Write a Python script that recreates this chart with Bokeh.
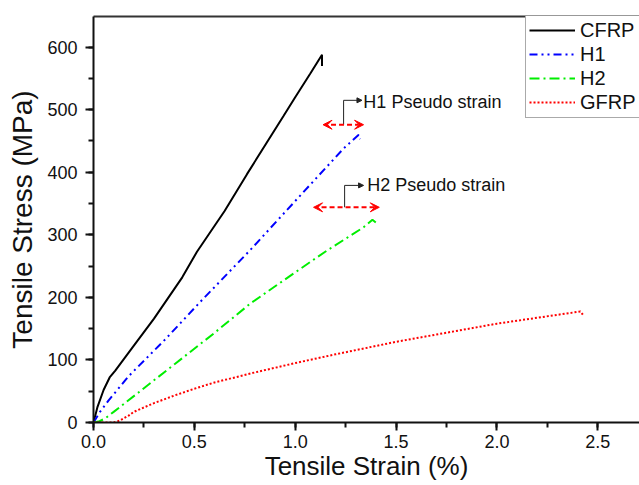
from bokeh.plotting import figure
from bokeh.models import (Range1d, LinearAxis, SingleIntervalTicker, FixedTicker,
                          NumeralTickFormatter, Legend, LegendItem, Arrow, VeeHead,
                          NormalHead, ColumnDataSource)
from bokeh.core.properties import value
from bokeh.embed import file_html
from bokeh.resources import INLINE

# ---- data ----
cfrp_x = [0, 0.02, 0.05, 0.08, 0.108, 0.2, 0.3, 0.44, 0.513, 0.65, 0.761, 0.942, 1.0, 1.075, 1.133, 1.133]
cfrp_y = [0, 25, 52, 72, 83, 123, 166, 232, 273, 338, 397, 490, 520, 558, 588, 570]

h1_x = [0, 0.03, 0.074, 0.174, 0.356, 0.53, 0.778, 1.0, 1.24, 1.315, 1.322]
h1_y = [0, 16, 35, 74, 133, 193, 276, 354, 438, 460, 453]

h2_x = [0, 0.03, 0.06, 0.1, 0.223, 0.405, 0.595, 0.777, 1.0, 1.158, 1.339, 1.383, 1.414]
h2_y = [0, 2, 7, 17, 48, 94, 142, 190, 240, 275, 312, 324, 316]

gfrp_x = [0, 0.05, 0.1, 0.13, 0.174, 0.2, 0.3, 0.4, 0.5, 0.6, 0.8, 1.0, 1.2, 1.5, 2.0, 2.414, 2.427]
gfrp_y = [0, 0, 0, 3, 11, 17, 31, 43, 54, 64, 80, 95, 109, 129, 158, 177.5, 172]

series_labels = ["CFRP", "H1", "H2", "GFRP"]
x_title = "Tensile Strain (%)"
y_title = "Tensile Stress (MPa)"

# pseudo-strain annotations
ps_x0 = [1.138, 1.091]
ps_x1 = [1.339, 1.417]
ps_y = [476, 344]
conn_x = [1.24, 1.245]
conn_top = [515, 379]
conn_x_end = [1.331, 1.339]
note_x = [1.338, 1.357]
note_y = [512, 380]
note_text = ["H1 Pseudo strain", "H2 Pseudo strain"]

x_ticks_interval = 0.5
y_ticks_interval = 100

FONT = "Liberation Sans"
TXT = "#111111"

p = figure(width=639, height=485, output_backend="svg", toolbar_location=None,
           x_range=Range1d(0, 2.707), y_range=Range1d(0, 649),
           min_border_left=93, min_border_right=0, min_border_top=16, min_border_bottom=63,
           x_axis_label=x_title, y_axis_label=y_title)
p.outline_line_color = None
p.grid.visible = False
p.background_fill_color = "white"
p.border_fill_color = "white"

p.xaxis.ticker = SingleIntervalTicker(interval=x_ticks_interval, num_minor_ticks=2)
p.xaxis.formatter = NumeralTickFormatter(format="0.0")
p.yaxis.ticker = SingleIntervalTicker(interval=y_ticks_interval, num_minor_ticks=2)

for ax in (p.xaxis[0], p.yaxis[0]):
    ax.axis_line_width = 2
    ax.axis_line_color = "#111111"
    ax.major_tick_line_width = 2
    ax.major_tick_line_color = "#111111"
    ax.major_tick_in = 0
    ax.major_tick_out = 8
    ax.minor_tick_line_width = 2
    ax.minor_tick_line_color = "#111111"
    ax.minor_tick_in = 0
    ax.minor_tick_out = 5
    ax.major_label_text_font = FONT
    ax.major_label_text_font_size = "18px"
    ax.major_label_text_color = TXT
    ax.axis_label_text_font = FONT
    ax.axis_label_text_font_style = "normal"
    ax.axis_label_text_color = TXT

p.xaxis.axis_label_text_font_size = "26px"
p.xaxis.major_label_standoff = 4
p.xaxis.axis_label_standoff = 0
p.yaxis.axis_label_text_font_size = "28px"
p.yaxis.major_label_standoff = 8
p.yaxis.axis_label_standoff = 6

top = LinearAxis(ticker=FixedTicker(ticks=[]), axis_line_width=2, axis_line_color="#333333",
                 major_tick_out=0, major_tick_in=0, minor_tick_out=0, minor_tick_in=0,
                 major_label_text_font_size="0px")
p.add_layout(top, "above")

r_c = p.line(cfrp_x, cfrp_y, line_color="black", line_width=2)
r_h1 = p.line(h1_x, h1_y, line_color="#0000FF", line_width=2, line_dash="8 4 2 4 2 4")
r_h2 = p.line(h2_x, h2_y, line_color="#00EE00", line_width=2, line_dash="10 4 2 4")
r_g = p.line(gfrp_x, gfrp_y, line_color="#FF0000", line_width=2, line_dash="2 2")

# pseudo strain double arrows
ps_src = ColumnDataSource(dict(x0=ps_x0, x1=ps_x1, y=ps_y))
p.add_layout(Arrow(source=ps_src, x_start="x0", y_start="y", x_end="x1", y_end="y",
                   line_color="#FF0000", line_width=2, line_dash="5 3",
                   start=VeeHead(size=9, line_color="#FF0000", fill_color="#FF0000", line_width=1),
                   end=VeeHead(size=9, line_color="#FF0000", fill_color="#FF0000", line_width=1)))
# connectors
p.segment(x0=conn_x, y0=ps_y, x1=conn_x, y1=conn_top, line_color="#222222", line_width=1)
cn_src = ColumnDataSource(dict(x0=conn_x, x1=conn_x_end, y=conn_top))
p.add_layout(Arrow(source=cn_src, x_start="x0", y_start="y", x_end="x1", y_end="y",
                   line_color="#222222", line_width=1,
                   end=NormalHead(size=5, line_color="#222222", fill_color="#222222", line_width=1)))
p.text(x=note_x, y=note_y, text=note_text, text_font=value(FONT), text_font_size="18px",
       text_color=TXT, text_baseline="middle", text_align="left")

legend = Legend(items=[LegendItem(label=series_labels[0], renderers=[r_c]),
                       LegendItem(label=series_labels[1], renderers=[r_h1]),
                       LegendItem(label=series_labels[2], renderers=[r_h2]),
                       LegendItem(label=series_labels[3], renderers=[r_g])],
                location=(432, 304), glyph_width=46, glyph_height=24, label_height=24,
                spacing=0, padding=3, margin=0, label_standoff=5,
                border_line_color="#555555", border_line_width=1,
                background_fill_color="white", background_fill_alpha=1,
                label_text_font=FONT, label_text_font_size="20px", label_text_color=TXT)
p.add_layout(legend)

open("out.html", "w").write(file_html(p, INLINE))
